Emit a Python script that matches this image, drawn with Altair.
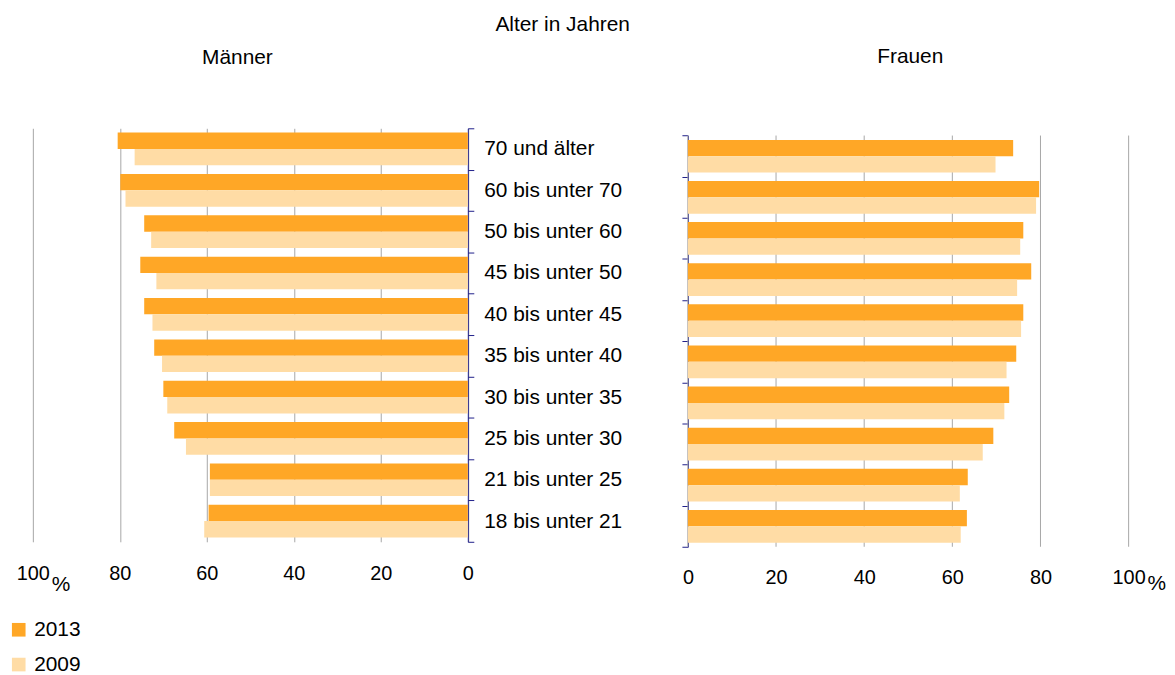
import altair as alt
import pandas as pd

FONT = "Liberation Sans"
NAVY = "#1f1f8a"
GRID = "#a6a6a6"

categories = ["70 und älter", "60 bis unter 70", "50 bis unter 60", "45 bis unter 50",
              "40 bis unter 45", "35 bis unter 40", "30 bis unter 35", "25 bis unter 30",
              "21 bis unter 25", "18 bis unter 21"]
years = ["2013", "2009"]
maenner_2013 = [80.5, 79.9, 74.4, 75.3, 74.4, 72.1, 70.0, 67.5, 59.3, 59.6]
maenner_2009 = [76.6, 78.7, 72.8, 71.6, 72.5, 70.3, 69.1, 64.8, 59.3, 60.6]
frauen_2013 = [73.8, 79.7, 76.1, 77.9, 76.1, 74.5, 72.9, 69.3, 63.5, 63.3]
frauen_2009 = [69.8, 79.0, 75.4, 74.7, 75.6, 72.3, 71.8, 66.9, 61.7, 61.9]
x_ticks = [0, 20, 40, 60, 80, 100]
colors = ["#FFA726", "#FFDCA5"]


def frame(v2013, v2009):
    rows = []
    for c, a, b in zip(categories, v2013, v2009):
        rows.append({"category": c, "year": "2013", "value": a})
        rows.append({"category": c, "year": "2009", "value": b})
    return pd.DataFrame(rows)


df_m = frame(maenner_2013, maenner_2009)
df_f = frame(frauen_2013, frauen_2009)
df_ticks = pd.DataFrame({"tick": x_ticks})

color = alt.Color(
    "year:N",
    scale=alt.Scale(domain=years, range=colors),
    legend=alt.Legend(title=None, orient="none", legendX=-24.7, legendY=494,
                      symbolType="square", symbolSize=188, symbolStrokeWidth=0,
                      labelFontSize=21, labelFont=FONT, labelColor="black",
                      rowPadding=13, labelOffset=5, padding=0),
)

y_offset = alt.YOffset("year:N", sort=years,
                       scale=alt.Scale(paddingInner=0, paddingOuter=0.265))


def x_axis(pad, grid):
    return alt.Axis(values=x_ticks, title=None, domain=False, ticks=False,
                    labelPadding=pad, labelFontSize=20, labelFont=FONT,
                    labelColor="black", labelFlush=False, grid=grid,
                    gridColor=GRID, gridWidth=1)


W_M, H_M = 437.6, 416
W_F, H_F = 443.4, 421
F_TOP = 7.3

bars_m = alt.Chart(df_m).mark_bar().encode(
    x=alt.X("value:Q", scale=alt.Scale(domain=[0, 100], reverse=True, nice=False),
            axis=x_axis(22, True)),
    y=alt.Y("category:N", sort=categories,
            scale=alt.Scale(paddingInner=0, paddingOuter=0),
            axis=alt.Axis(orient="right", title=None, tickBand="extent",
                          domainColor=NAVY, tickColor=NAVY, tickSize=6,
                          labelPadding=10, labelFontSize=21, labelFont=FONT,
                          labelAlign="left", labelColor="black", grid=False)),
    yOffset=y_offset,
    color=color,
)
pct_m = alt.Chart().mark_text(text="%", align="left", baseline="middle", dx=19,
                              fontSize=21, font=FONT, color="black").encode(
    x=alt.datum(100), y=alt.value(H_M + 43))

left = alt.layer(bars_m, pct_m).properties(
    width=W_M, height=H_M,
    title=alt.TitleParams("Männer", anchor="middle", dx=-13, offset=50))

grid_f = alt.Chart(df_ticks).mark_rule(color=GRID, strokeWidth=1).encode(
    x=alt.X("tick:Q", scale=alt.Scale(domain=[0, 100], nice=False),
            axis=x_axis(21, False)),
    y=alt.value(F_TOP), y2=alt.value(H_F))

bars_f = alt.Chart(df_f).mark_bar().encode(
    x=alt.X("value:Q", scale=alt.Scale(domain=[0, 100], nice=False),
            axis=x_axis(21, False)),
    y=alt.Y("category:N", sort=categories,
            scale=alt.Scale(paddingInner=0, paddingOuter=0, range=[F_TOP, H_F]),
            axis=alt.Axis(orient="left", title=None, tickBand="extent",
                          domainColor=NAVY, tickColor=NAVY, tickSize=6,
                          labels=False, grid=False)),
    yOffset=y_offset,
    color=color,
)
pct_f = alt.Chart().mark_text(text="%", align="left", baseline="middle", dx=19,
                              fontSize=21, font=FONT, color="black").encode(
    x=alt.datum(100), y=alt.value(H_F + 37))

right = alt.layer(grid_f, bars_f, pct_f).properties(
    width=W_F, height=H_F,
    title=alt.TitleParams("Frauen", anchor="middle", dx=2, offset=62))

chart = alt.hconcat(left, right, spacing=59).properties(
    title=alt.TitleParams("Alter in Jahren", anchor="middle", dx=-24.7, offset=11),
    padding={"left": 0, "top": 4, "right": 0, "bottom": 0},
).configure_view(stroke=None).configure_title(
    fontSize=21, fontWeight="normal", font=FONT, color="black"
)

chart.save("out.html", embed_options={"renderer": "svg", "actions": False})
